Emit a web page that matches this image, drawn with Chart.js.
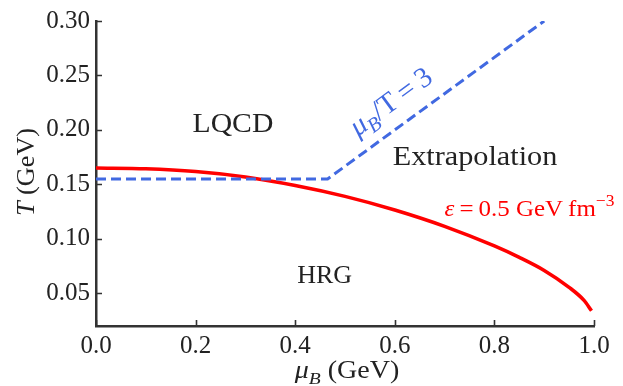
<!DOCTYPE html>
<html>
<head>
<meta charset="utf-8">
<script src="https://cdn.jsdelivr.net/npm/chart.js@4/dist/chart.umd.min.js"></script>
<style>
  html, body { margin: 0; padding: 0; background: #fff; }
  #wrap { width: 623px; height: 386px; }
</style>
</head>
<body>
<div id="wrap"><canvas id="grafico" width="623" height="386"></canvas></div>
<script>
// curva de energia constante (vermelha)
const muEps = [0, 0.1, 0.2, 0.3, 0.4, 0.5, 0.6, 0.7, 0.8, 0.85, 0.9, 0.95, 0.98, 0.995];
const tEps  = [0.165, 0.1643, 0.1618, 0.1568, 0.149, 0.139, 0.1265, 0.1115, 0.0935, 0.083, 0.071, 0.0555, 0.0435, 0.034];

// fronteira LQCD (tracejada azul)
const muLim = [0, 0.465, 0.9];
const tLim  = [0.155, 0.155, 0.30];

const xTicks = [0, 0.2, 0.4, 0.6, 0.8, 1.0];
const yTicks = [0.05, 0.10, 0.15, 0.20, 0.25, 0.30];

const SERIF = '"Liberation Serif", "DejaVu Serif", serif';
const AZUL = "#4169e1";
const VERM = "#ff0000";
const TINTA = "#222";

function pontos(xs, ys) { return xs.map((x, i) => ({ x: x, y: ys[i] })); }

function textoRico(ctx, segs, x, y, o) {
    const size = o.size || 24;
    ctx.save();
    ctx.translate(x, y);
    ctx.rotate(o.angle || 0);
    ctx.scale(o.sx || 1, 1);
    ctx.fillStyle = o.color || TINTA;
    ctx.textBaseline = "alphabetic";
    ctx.textAlign = "left";
    const fonte = s => (s.italic ? "italic " : "") + ((s.sub || s.sup) ? size * 0.7 : size) + "px " + SERIF;
    let total = 0;
    segs.forEach(s => { ctx.font = fonte(s); total += ctx.measureText(s.t).width; });
    let cx = o.align === "center" ? -total / 2 : 0;
    segs.forEach(s => {
        ctx.font = fonte(s);
        const dy = s.sub ? size * 0.22 : s.sup ? -size * 0.4 : 0;
        ctx.fillText(s.t, cx, (o.dy || 0) + dy);
        cx += ctx.measureText(s.t).width;
    });
    ctx.restore();
}

const rotulos = [
    { segs: [{ t: "LQCD" }], mu: 0.275, T: 0.198, size: 27, sx: 1.1, align: "center" },
    { segs: [{ t: "HRG" }], mu: 0.459, T: 0.0595, size: 26, align: "center" },
    { segs: [{ t: "Extrapolation" }], mu: 0.761, T: 0.168, size: 27, sx: 1.12, align: "center" },
    { segs: [{ t: "\u03b5", italic: true }, { t: "\u2009=\u20090.5 GeV\u2009fm" }, { t: "\u22123", sup: true }],
      mu: 0.700, T: 0.121, size: 24, sx: 1.04, align: "left", color: VERM },
    { segs: [{ t: "\u03bc", italic: true }, { t: "B", italic: true, sub: true }, { t: "/T\u2009=\u20093" }],
      mu: 0.592, T: 0.226, size: 29, align: "center", color: AZUL, angle: -36.3 * Math.PI / 180, dy: 9 }
];

const pluginEixos = {
    id: "eixos",
    afterDraw(chart) {
        const ctx = chart.ctx;
        const a = chart.chartArea;
        const sx = chart.scales.x, sy = chart.scales.y;

        // ticks para dentro
        ctx.save();
        ctx.strokeStyle = "#333";
        ctx.lineWidth = 1.6;
        ctx.beginPath();
        xTicks.forEach(v => {
            const px = Math.round(sx.getPixelForValue(v)) + 0.5;
            ctx.moveTo(px, a.bottom); ctx.lineTo(px, a.bottom - 6);
        });
        yTicks.forEach(v => {
            const py = Math.round(sy.getPixelForValue(v)) + 0.5;
            ctx.moveTo(a.left, py); ctx.lineTo(a.left + 6, py);
        });
        ctx.stroke();
        ctx.restore();

        rotulos.forEach(r => {
            textoRico(ctx, r.segs, sx.getPixelForValue(r.mu), sy.getPixelForValue(r.T), r);
        });

        // titulos dos eixos
        textoRico(ctx, [{ t: "\u03bc", italic: true }, { t: "B", italic: true, sub: true }, { t: " (GeV)" }],
            (a.left + a.right) / 2 + 2, 378, { size: 25, sx: 1.12, align: "center" });
        textoRico(ctx, [{ t: "T", italic: true }, { t: " (GeV)" }],
            34, 172, { size: 25, sx: 1.05, align: "center", angle: -Math.PI / 2 });
    }
};

new Chart(document.getElementById("grafico"), {
    type: "scatter",
    data: {
        datasets: [
            {
                data: pontos(muLim, tLim),
                showLine: true,
                borderColor: AZUL,
                borderWidth: 3,
                borderDash: [10, 5],
                pointRadius: 0
            },
            {
                data: pontos(muEps, tEps),
                showLine: true,
                borderColor: VERM,
                borderWidth: 3.6,
                cubicInterpolationMode: "monotone",
                pointRadius: 0
            }
        ]
    },
    options: {
        responsive: false,
        animation: false,
        layout: { padding: { left: 0, top: 17, right: 29, bottom: 0 } },
        plugins: { legend: { display: false }, tooltip: { enabled: false } },
        scales: {
            x: {
                type: "linear", min: 0, max: 1,
                afterBuildTicks: s => { s.ticks = xTicks.map(v => ({ value: v })); },
                afterFit: s => { s.height = 60; },
                ticks: {
                    callback: v => v.toFixed(1),
                    font: { family: SERIF, size: 25 },
                    color: TINTA, padding: 5, maxRotation: 0
                },
                grid: { drawOnChartArea: false, drawTicks: false },
                border: { color: "#333", width: 2.5 }
            },
            y: {
                type: "linear", min: 0.02, max: 0.30,
                afterBuildTicks: s => { s.ticks = yTicks.map(v => ({ value: v })); },
                afterFit: s => { s.width = 96; },
                ticks: {
                    callback: v => v.toFixed(2),
                    font: { family: SERIF, size: 25 },
                    color: TINTA, padding: 6
                },
                grid: { drawOnChartArea: false, drawTicks: false },
                border: { color: "#333", width: 2.5 }
            }
        }
    },
    plugins: [pluginEixos]
});
</script>
</body>
</html>
